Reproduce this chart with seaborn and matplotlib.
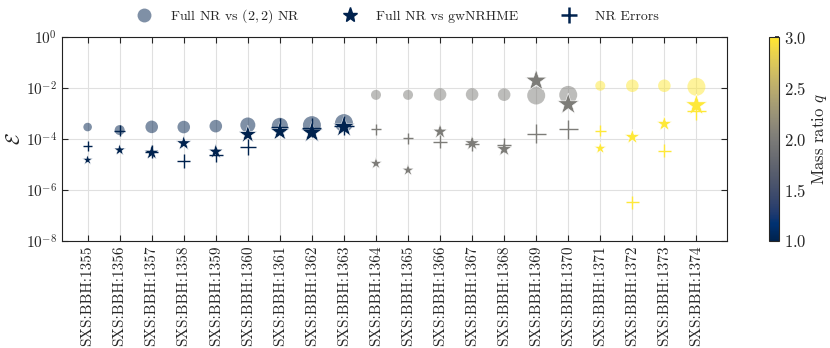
import numpy as np
import pandas as pd
import matplotlib
matplotlib.use("Agg")
import matplotlib.pyplot as plt
from matplotlib.lines import Line2D
import seaborn as sns

# simulations and mass ratios
sims = ["SXS:BBH:1355", "SXS:BBH:1356", "SXS:BBH:1357", "SXS:BBH:1358", "SXS:BBH:1359",
        "SXS:BBH:1360", "SXS:BBH:1361", "SXS:BBH:1362", "SXS:BBH:1363", "SXS:BBH:1364",
        "SXS:BBH:1365", "SXS:BBH:1366", "SXS:BBH:1367", "SXS:BBH:1368", "SXS:BBH:1369",
        "SXS:BBH:1370", "SXS:BBH:1371", "SXS:BBH:1372", "SXS:BBH:1373", "SXS:BBH:1374"]
q = [1, 1, 1, 1, 1, 1, 1, 1, 1, 2, 2, 2, 2, 2, 2, 2, 3, 3, 3, 3]

# mismatches
err_22 = [2.95e-4, 2.24e-4, 3.0e-4, 2.95e-4, 3.2e-4, 3.55e-4, 3.3e-4, 3.5e-4, 4.2e-4, 5.4e-3,
          5.4e-3, 5.6e-3, 5.6e-3, 5.5e-3, 5.1e-3, 5.4e-3, 1.23e-2, 1.23e-2, 1.23e-2, 1.12e-2]
err_model = [1.5e-5, 3.7e-5, 2.9e-5, 6.8e-5, 3.2e-5, 1.5e-4, 1.95e-4, 1.8e-4, 3.0e-4, 1.1e-5,
             6.0e-6, 1.95e-4, 6.8e-5, 4.0e-5, 1.95e-2, 2.3e-3, 4.3e-5, 1.2e-4, 3.9e-4, 2.1e-3]
err_nr = [5.4e-5, 2.1e-4, 3.2e-5, 1.4e-5, 2.3e-5, 5.0e-5, 3.0e-4, 2.75e-4, 3.3e-4, 2.4e-4,
          1.07e-4, 7.9e-5, 6.2e-5, 5.75e-5, 1.6e-4, 2.4e-4, 2.1e-4, 3.3e-7, 3.5e-5, 1.3e-3]
# per-simulation marker weight
weight = [38, 52, 82, 82, 82, 117, 133, 168, 168, 52, 52, 82, 82, 82, 168, 168, 52, 82, 82, 168]

df = pd.DataFrame({"sim": sims, "x": np.arange(len(sims)), "q": q,
                   "err_22": err_22, "err_model": err_model, "err_nr": err_nr, "w": weight})

sns.set_theme(style="ticks")
plt.rcParams["font.family"] = ["cmr10", "DejaVu Serif"]
plt.rcParams["mathtext.fontset"] = "cm"
plt.rcParams["axes.formatter.use_mathtext"] = True
plt.rcParams["axes.unicode_minus"] = False

fig = plt.figure(figsize=(8.3, 3.48), dpi=100)
ax = fig.add_axes([0.0747, 0.3075, 0.801, 0.586])
cax = fig.add_axes([0.9265, 0.3075, 0.0125, 0.586])

common = dict(data=df, x="x", hue="q", palette="cividis", hue_norm=(1, 3),
              size="w", size_norm=(38, 168), legend=False, ax=ax)
sns.scatterplot(y="err_22", marker="o", alpha=0.5, linewidth=0, zorder=3,
                sizes=(38, 168), **common)
sns.scatterplot(y="err_model", marker="*", linewidth=0.4, zorder=4,
                sizes=(60, 260), **common)
sns.scatterplot(y="err_nr", marker="+", linewidth=1.0, zorder=5,
                sizes=(45, 190), **common)

ax.set_yscale("log")
ax.set_ylim(1e-8, 1e0)
ax.set_yticks([1e-8, 1e-6, 1e-4, 1e-2, 1e0])
ax.yaxis.set_minor_locator(matplotlib.ticker.NullLocator())
ax.set_xlim(-0.8, 19.95)
ax.set_xticks(df["x"])
ax.set_xticklabels(df["sim"], rotation=90, fontsize=11)
ax.tick_params(axis="y", labelsize=11)
ax.tick_params(direction="in", top=True, right=True, length=4, width=0.8)
ax.grid(True, color="#e0e0e0", linewidth=0.8, zorder=0)
ax.set_axisbelow(True)
ax.set_xlabel("")
ax.set_ylabel(r"$\mathcal{E}$", fontsize=14, labelpad=1)
for sp in ax.spines.values():
    sp.set_linewidth(0.8)
    sp.set_color("#222222")

navy = plt.get_cmap("cividis")(0.0)
handles = [
    Line2D([], [], marker="o", linestyle="", color=navy, alpha=0.5, markersize=10,
           markeredgewidth=0, label=r"Full NR vs $(2,2)$ NR"),
    Line2D([], [], marker="*", linestyle="", color=navy, markersize=11,
           label="Full NR vs gwNRHME"),
    Line2D([], [], marker="+", linestyle="", color=navy, markersize=11,
           markeredgewidth=1.8, label="NR Errors"),
]
ax.legend(handles=handles, loc="lower center", bbox_to_anchor=(0.5, 1.03), ncol=3,
          frameon=False, fontsize=10, columnspacing=2.6, handletextpad=0.9,
          borderaxespad=0.0)

sm = plt.cm.ScalarMappable(cmap="cividis", norm=plt.Normalize(1, 3))
cb = fig.colorbar(sm, cax=cax)
cb.set_ticks([1.0, 1.5, 2.0, 2.5, 3.0])
cb.ax.tick_params(labelsize=12, direction="in", length=3)
cb.set_label(r"Mass ratio $q$", fontsize=12, labelpad=2)
cb.outline.set_linewidth(0.8)

fig.savefig("out.png", dpi=100)
